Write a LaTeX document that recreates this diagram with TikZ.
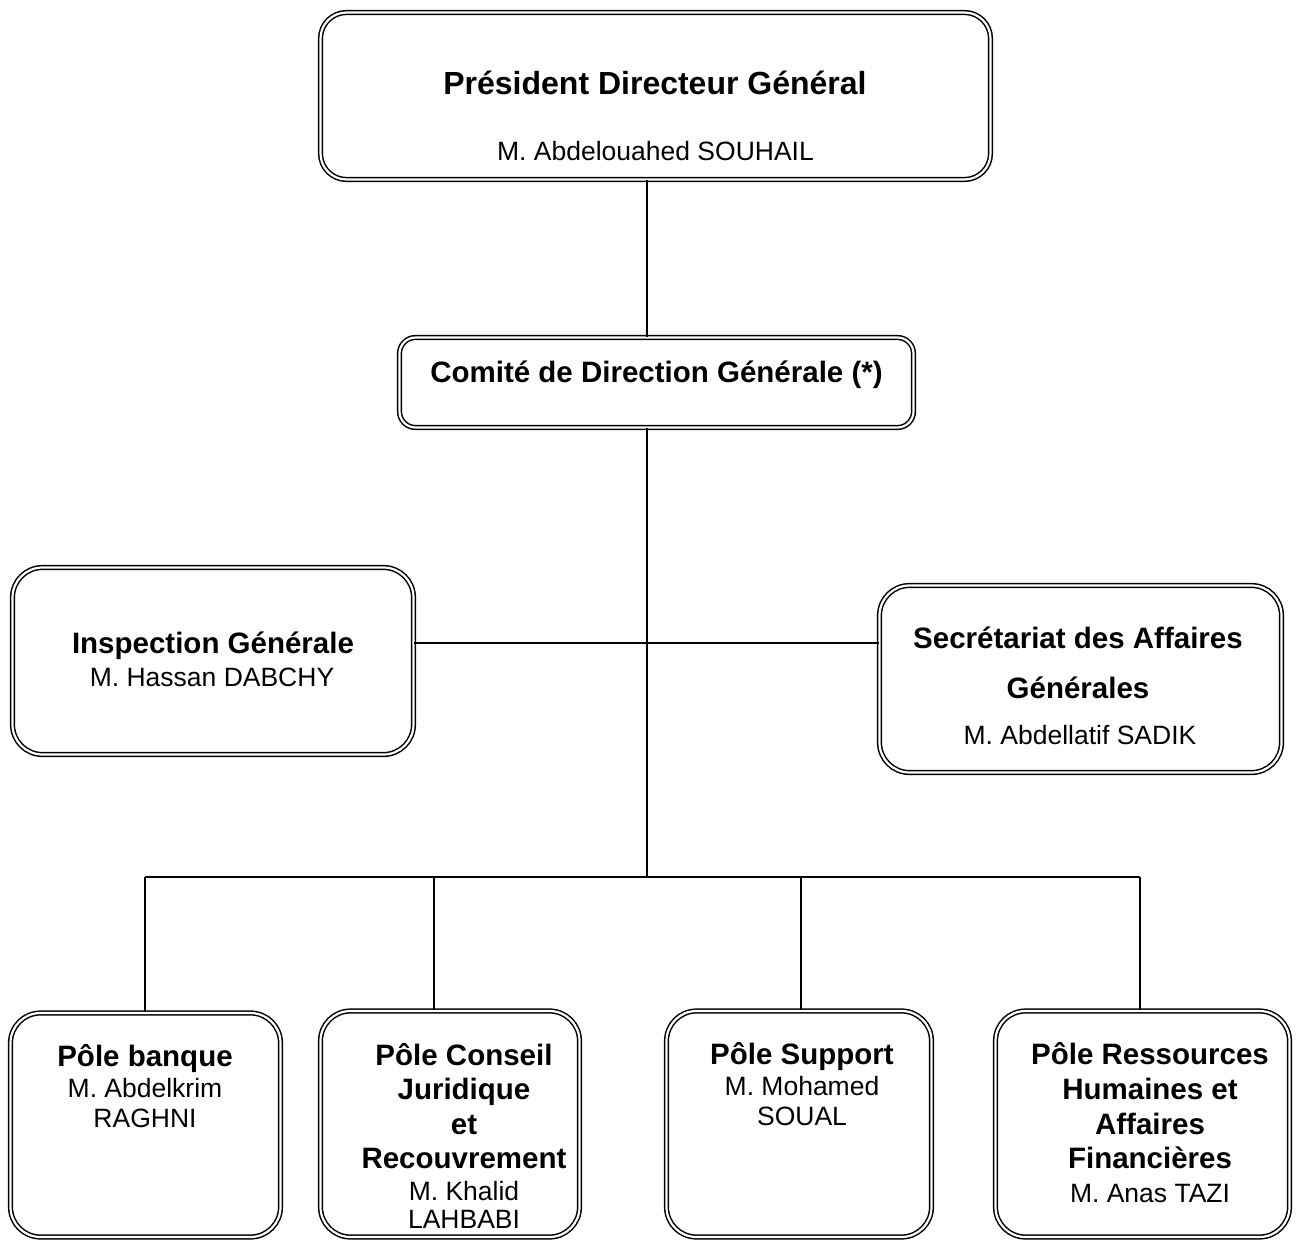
\documentclass[tikz,border=0pt]{standalone}
\usepackage{fontspec}
\setmainfont{Liberation Sans}
\begin{document}
\begin{tikzpicture}[x=1pt,y=-1pt,
  orgbox/.style={draw, double, double distance=2.2pt, line width=1.5pt, inner sep=0pt},
  bt/.style={font=\fontsize{29.5}{31}\selectfont\bfseries, anchor=base, inner sep=0pt},
  tt/.style={font=\fontsize{32}{34}\selectfont\bfseries, anchor=base, inner sep=0pt},
  nt/.style={font=\fontsize{26.5}{28}\selectfont, anchor=base, inner sep=0pt},
  link/.style={line width=1.5pt}]
\useasboundingbox (0,0) rectangle (1296,1245);

% boxes
\node[orgbox, rounded corners=26pt, minimum width=670pt, minimum height=167pt] (pdg) at (655.5,96) {};
\node[orgbox, rounded corners=16pt, minimum width=514pt, minimum height=90pt] (com) at (656.5,382.5) {};
\node[orgbox, rounded corners=30pt, minimum width=401pt, minimum height=187pt] (insp) at (213,661) {};
\node[orgbox, rounded corners=30pt, minimum width=402pt, minimum height=187pt] (sec) at (1080.5,679) {};
\node[orgbox, rounded corners=30pt, minimum width=270pt, minimum height=224pt] (pb) at (145.5,1125) {};
\node[orgbox, rounded corners=30pt, minimum width=259pt, minimum height=226pt] (pc) at (450,1124) {};
\node[orgbox, rounded corners=30pt, minimum width=265pt, minimum height=226pt] (ps) at (799,1124) {};
\node[orgbox, rounded corners=30pt, minimum width=294pt, minimum height=226pt] (prh) at (1142.5,1124) {};

% texts
\node[tt] (pdg1) at (655,94) {Président Directeur Général};
\node[nt] (pdg2) at (655.5,160) {M. Abdelouahed SOUHAIL};
\node[bt] (com1) at (656.5,382) {Comité de Direction Générale (*)};
\node[bt] (insp1) at (213,653) {Inspection Générale};
\node[nt] (insp2) at (212,686) {M. Hassan DABCHY};
\node[bt] (sec1) at (1078,648) {Secrétariat des Affaires};
\node[bt] (sec2) at (1078,698) {Générales};
\node[nt] (sec3) at (1080,744) {M. Abdellatif SADIK};
\node[bt] (pb1) at (145,1066) {Pôle banque};
\node[nt] (pb2) at (145,1097) {M. Abdelkrim};
\node[nt] (pb3) at (145,1127) {RAGHNI};
\node[bt] (pc1) at (464,1065) {Pôle Conseil};
\node[bt] (pc2) at (464,1099) {Juridique};
\node[bt] (pc3) at (464,1134) {et};
\node[bt] (pc4) at (464,1168) {Recouvrement};
\node[nt] (pc5) at (464,1200) {M. Khalid};
\node[nt] (pc6) at (464,1228) {LAHBABI};
\node[bt] (ps1) at (802,1064) {Pôle Support};
\node[nt] (ps2) at (802,1095) {M. Mohamed};
\node[nt] (ps3) at (802,1125) {SOUAL};
\node[bt] (prh1) at (1150,1064) {Pôle Ressources};
\node[bt] (prh2) at (1150,1099) {Humaines et};
\node[bt] (prh3) at (1150,1134) {Affaires};
\node[bt] (prh4) at (1150,1168) {Financières};
\node[nt] (prh5) at (1150,1202) {M. Anas TAZI};

% connectors
\coordinate (tx) at (647,0);
\coordinate (hl) at (0,643);
\coordinate (d1) at (145,877);
\coordinate (d2) at (434,877);
\coordinate (d3) at (801,877);
\coordinate (d4) at (1140,877);
\draw[link] (pdg.south -| tx) -- (com.north -| tx);
\draw[link] (com.south -| tx) -- (d3 -| tx);
\draw[link] (insp.east |- hl) -- (sec.west |- hl);
\draw[link] (d1) -- (d4);
\draw[link] (d1) -- (pb.north -| d1);
\draw[link] (d2) -- (pc.north -| d2);
\draw[link] (d3) -- (ps.north -| d3);
\draw[link] (d4) -- (prh.north -| d4);
\end{tikzpicture}
\end{document}
